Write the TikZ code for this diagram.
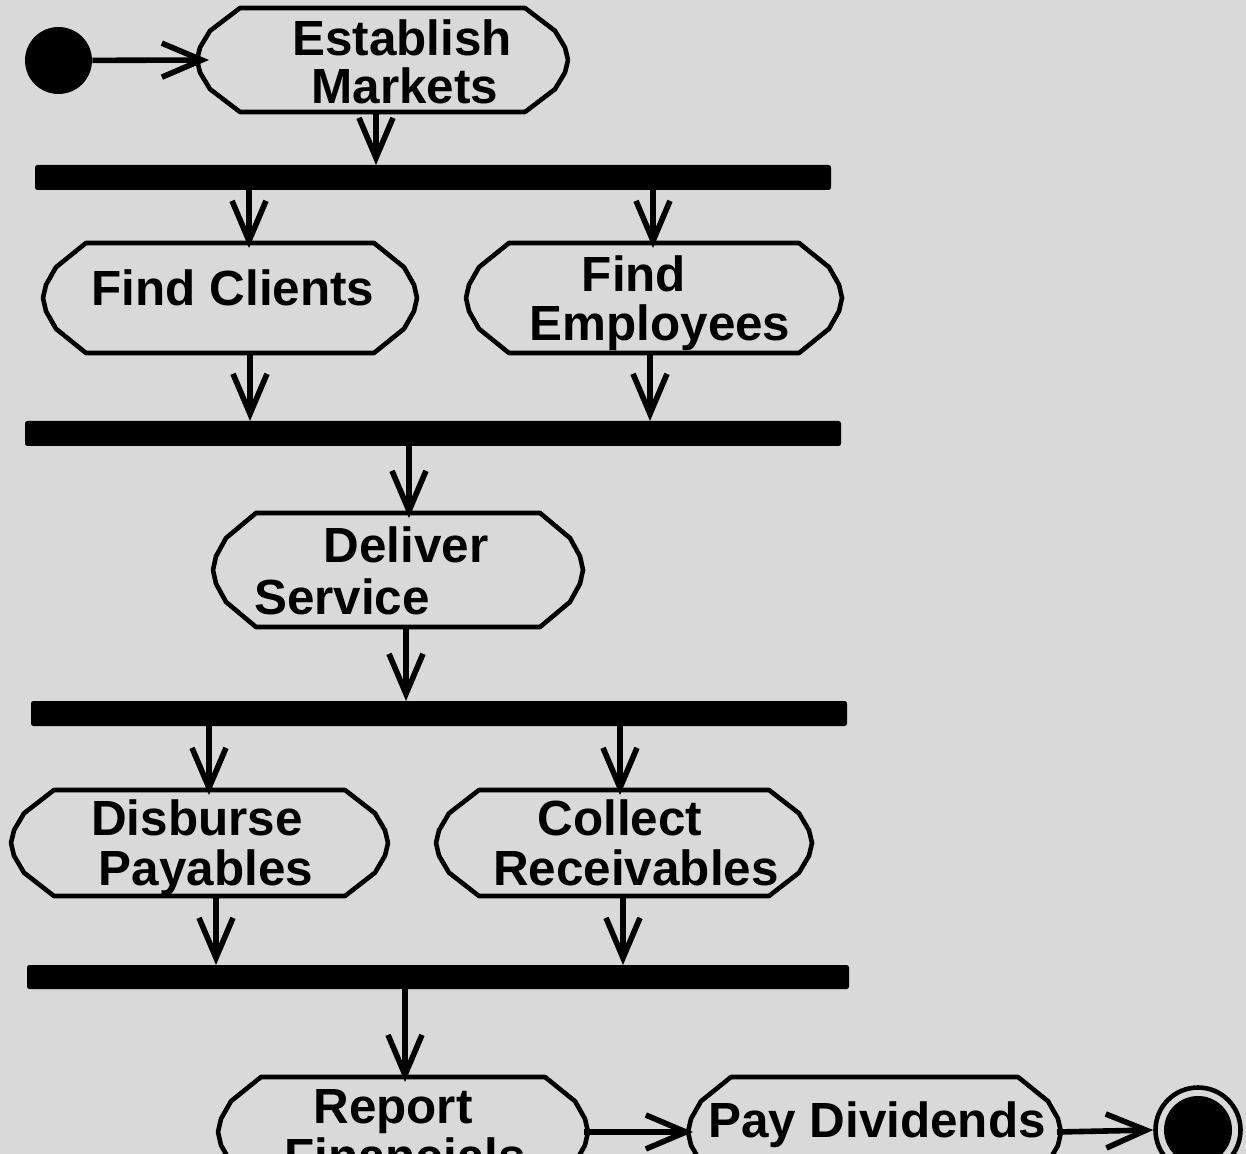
\documentclass[tikz,border=0pt]{standalone}
\usepackage{fontspec}
\setmainfont{Liberation Sans}
\usetikzlibrary{arrows.meta,calc}
\definecolor{bg}{RGB}{217,217,217}
\tikzset{
  actbox/.style={rectangle, inner sep=0pt, outer sep=0pt},
  outl/.style={line width=2.3pt, line join=round},
  lbl/.style={anchor=base, inner sep=0pt, font=\fontsize{24.7}{30}\bfseries\selectfont},
  bar/.style={rectangle, fill=black, rounded corners=1.2pt, inner sep=0pt, outer sep=0pt},
  conn/.style={line width=2.8pt, -{Straight Barb[length=20pt,width=17pt]}},
  into/.style={conn, shorten >=-2.5pt},
}
\newcommand\actstate[5]{%
  \pgfmathsetmacro\actX{(#2+#4)/2}%
  \pgfmathsetmacro\actY{(#3+#5)/2}%
  \pgfmathsetmacro\actW{(#4-#2)/2}%
  \pgfmathsetmacro\actH{(#5-#3)/2}%
  \node[actbox, minimum width=\actW pt, minimum height=\actH pt] (#1) at (\actX,\actY) {};
  \draw[outl] ($(#1.north west)+(43,0)$) -- ($(#1.north east)+(-43,0)$)
    -- ($(#1.north east)!0.22!(#1.south east)+(-13,0)$)
    -- ($(#1.north east)!0.38!(#1.south east)+(-3,0)$)
    -- (#1.east)
    -- ($(#1.north east)!0.62!(#1.south east)+(-3,0)$)
    -- ($(#1.north east)!0.78!(#1.south east)+(-13,0)$)
    -- ($(#1.south east)+(-43,0)$) -- ($(#1.south west)+(43,0)$)
    -- ($(#1.north west)!0.78!(#1.south west)+(13,0)$)
    -- ($(#1.north west)!0.62!(#1.south west)+(3,0)$)
    -- (#1.west)
    -- ($(#1.north west)!0.38!(#1.south west)+(3,0)$)
    -- ($(#1.north west)!0.22!(#1.south west)+(13,0)$)
    -- cycle;
}
\begin{document}
\begin{tikzpicture}[x=0.5pt,y=-0.5pt]
\path[use as bounding box] (0,0) rectangle (1246,1154);
\fill[bg] (0,0) rectangle (1246,1154);
\clip (0,0) rectangle (1246,1154);

% initial and final states
\node[circle, fill=black, inner sep=0pt, minimum size=33.5pt] (init) at (58.5,60.5) {};
\node[circle, draw=black, line width=2.3pt, inner sep=0pt, minimum size=42.5pt] (fin) at (1198,1130) {};
\node[circle, fill=black, inner sep=0pt, minimum size=34pt] (finc) at (fin.center) {};

% activity states
\actstate{em}{197}{8}{568}{112}
\actstate{fc}{43}{243}{417}{353}
\actstate{fe}{466}{243}{842}{353}
\actstate{ds}{213}{513}{583}{627}
\actstate{dp}{11}{790}{388}{896}
\actstate{cr}{436}{790}{812}{896}
\actstate{rf}{218}{1077}{588}{1187}
\actstate{pd}{688}{1077}{1061}{1187}

% synchronisation bars
\node[bar, minimum width=398pt, minimum height=12.5pt] (b1) at (433,177.5) {};
\node[bar, minimum width=408pt, minimum height=12.5pt] (b2) at (433,433.5) {};
\node[bar, minimum width=408pt, minimum height=12.5pt] (b3) at (439,713.5) {};
\node[bar, minimum width=411pt, minimum height=12pt] (b4) at (438,977) {};

% labels
\node[lbl] (em1) at (402,56) {Establish};
\node[lbl] (em2) at (405,104) {Markets};
\node[lbl] (fc1) at (233,306) {Find Clients};
\node[lbl] (fe1) at (634,292) {Find};
\node[lbl] (fe2) at (660,341) {Employees};
\node[lbl] (ds1) at (406,562) {Deliver};
\node[lbl] (ds2) at (342,614) {Service};
\node[lbl] (dp1) at (197,835) {Disburse};
\node[lbl] (dp2) at (206,885) {Payables};
\node[lbl] (cr1) at (620,835) {Collect};
\node[lbl] (cr2) at (636,885) {Receivables};
\node[lbl] (rf1) at (393,1123) {Report};
\node[lbl] (rf2) at (405,1173) {Financials};
\node[lbl] (pd1) at (877,1137) {Pay Dividends};

% connectors
\draw[conn] (init) -- ([xshift=6pt]em.west);
\draw[conn] (376,0 |- em.south) -- (376,0 |- b1.north);
\draw[into] (249,0 |- b1.south) -- (249,0 |- fc.north);
\draw[into] (653,0 |- b1.south) -- (653,0 |- fe.north);
\draw[conn] (250,0 |- fc.south) -- (250,0 |- b2.north);
\draw[conn] (650,0 |- fe.south) -- (650,0 |- b2.north);
\draw[into] (409,0 |- b2.south) -- (409,0 |- ds.north);
\draw[conn] (406,0 |- ds.south) -- (406,0 |- b3.north);
\draw[into] (209,0 |- b3.south) -- (209,0 |- dp.north);
\draw[into] (620,0 |- b3.south) -- (620,0 |- cr.north);
\draw[conn] (216,0 |- dp.south) -- (216,0 |- b4.north);
\draw[conn] (623,0 |- cr.south) -- (623,0 |- b4.north);
\draw[into] (405,0 |- b4.south) -- (405,0 |- rf.north);
\draw[conn] ([xshift=-2pt]rf.east) -- ([xshift=2.5pt]pd.west);
\draw[conn] ([xshift=-2pt]pd.east) -- (fin.west);
\end{tikzpicture}
\end{document}
